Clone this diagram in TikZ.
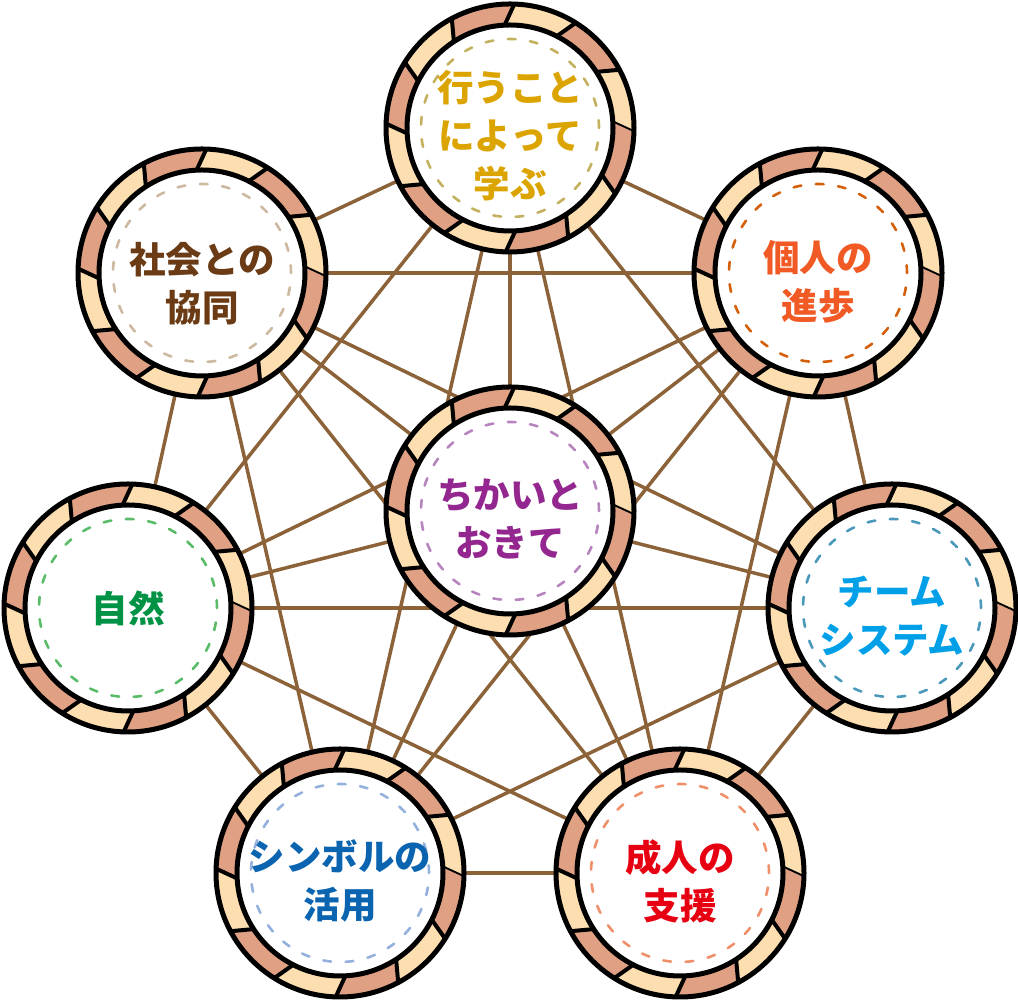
\documentclass[tikz,border=0pt]{standalone}
\usepackage{fontspec}
\newfontfamily\jp{Noto Sans CJK JP Black}
\usetikzlibrary{backgrounds}
\definecolor{edgecol}{HTML}{8C6239}
\definecolor{ringA}{HTML}{E0A083}
\definecolor{ringB}{HTML}{FCDEB0}
\definecolor{tT}{HTML}{DBA400}\definecolor{dT}{HTML}{C4B15F}
\definecolor{tUL}{HTML}{6A3B14}\definecolor{dUL}{HTML}{CDB8A0}
\definecolor{tUR}{HTML}{F15A24}\definecolor{dUR}{HTML}{D4600C}
\definecolor{tC}{HTML}{93278F}\definecolor{dC}{HTML}{B685BE}
\definecolor{tL}{HTML}{009245}\definecolor{dL}{HTML}{5ABB69}
\definecolor{tR}{HTML}{00A0E9}\definecolor{dR}{HTML}{4A98BA}
\definecolor{tBL}{HTML}{0B64B0}\definecolor{dBL}{HTML}{94B1DE}
\definecolor{tBR}{HTML}{E60012}\definecolor{dBR}{HTML}{F0906A}
\tikzset{
  hub/.style={circle,minimum size=250pt,inner sep=0pt,outer sep=0pt,fill=white},
  edge/.style={draw=edgecol,line width=3.5pt},
  ringline/.style={draw=black,line width=5pt},
  divider/.style={draw=black,line width=4pt},
  dashring/.style={line width=2.6pt,line cap=round,dash pattern=on 7.8pt off 14.57pt},
  label/.style={align=center,inner sep=0pt,font=\jp\fontsize{36.5}{48}\selectfont}
}
\newcommand\ringat[2]{%
  \begin{scope}[shift={(#1.center)}]
    \foreach \sa/\sb/\col in {-2/28/ringB,28/58/ringA,58/88/ringB,88/118/ringA,
        118/148/ringB,148/178/ringA,178/208/ringB,208/238/ringA,
        238/268/ringB,268/298/ringA,298/328/ringB,328/358/ringA} {
      \fill[\col] (\sa:124pt) arc[start angle=\sa, end angle=\sb, radius=124pt]
        -- (\sb+5:103pt) arc[start angle=\sb+5, end angle=\sa+5, radius=103pt] -- cycle;
      \draw[divider] (\sa:124pt) -- (\sa+5:103pt);
    }
    \draw[ringline] (0,0) circle[radius=124pt];
    \draw[ringline] (0,0) circle[radius=103pt];
    \draw[dashring,draw=#2] (0,0) circle[radius=89pt];
  \end{scope}}
\begin{document}
\begin{tikzpicture}[x=1pt,y=1pt]
\useasboundingbox (0,0) rectangle (1018,1000);
\node[hub] (T) at (510,872) {};
\node[hub] (UL) at (202,727) {};
\node[hub] (UR) at (818,727) {};
\node[hub] (L) at (128,392) {};
\node[hub] (R) at (892,392) {};
\node[hub] (BL) at (340,127) {};
\node[hub] (BR) at (680,127) {};
\node[hub] (C) at (510,489) {};
\begin{pgfonlayer}{background}
\foreach \a/\b in {T/UR,T/R,T/BR,T/BL,T/L,T/UL,T/C,
  UR/R,UR/BR,UR/BL,UR/L,UR/UL,UR/C,
  R/BR,R/BL,R/L,R/UL,R/C,
  BR/BL,BR/L,BR/UL,BR/C,
  BL/L,BL/UL,BL/C,
  L/UL,L/C,UL/C}
  \draw[edge] (\a) -- (\b);
\end{pgfonlayer}
\ringat{T}{dT}
\ringat{UL}{dUL}
\ringat{UR}{dUR}
\ringat{L}{dL}
\ringat{R}{dR}
\ringat{BL}{dBL}
\ringat{BR}{dBR}
\ringat{C}{dC}
\node[label,text=tT] (Tt) at ([yshift=-8pt]T.center) {行うこと\\によって\\学ぶ};
\node[label,text=tUL] (ULt) at ([yshift=-11pt]UL.center) {社会との\\協同};
\node[label,text=tUR] (URt) at ([yshift=-9pt]UR.center) {個人の\\進歩};
\node[label,text=tL] (Lt) at (L.center) {自然};
\node[label,text=tR] (Rt) at ([yshift=-8pt]R.center) {チーム\\システム};
\node[label,text=tBL] (BLt) at ([yshift=-8pt]BL.center) {シンボルの\\活用};
\node[label,text=tBR] (BRt) at ([yshift=-8pt]BR.center) {成人の\\支援};
\node[label,text=tC] (Ct) at ([yshift=-8pt]C.center) {ちかいと\\おきて};
\end{tikzpicture}
\end{document}
